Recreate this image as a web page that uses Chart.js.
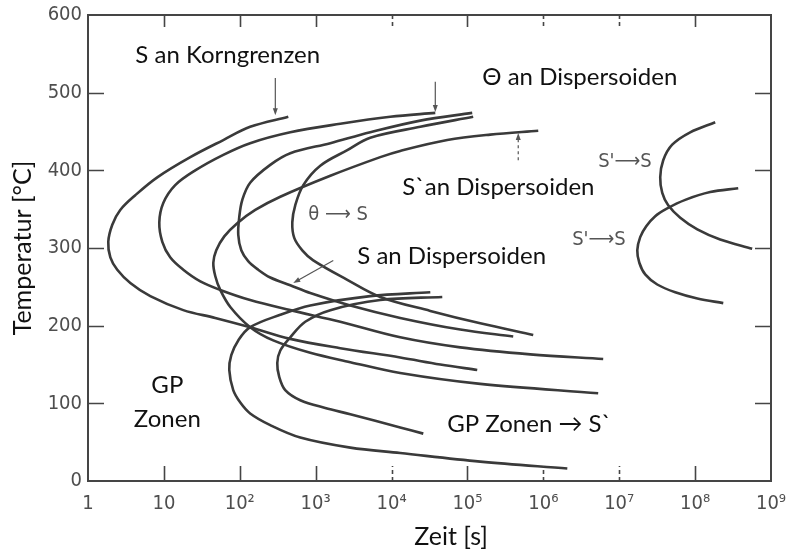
<!DOCTYPE html>
<html>
<head>
<meta charset="utf-8">
<script src="https://cdn.jsdelivr.net/npm/chart.js@4.4.1/dist/chart.umd.min.js"></script>
<style>
  html, body { margin: 0; padding: 0; background: #fff; }
  #wrap { width: 788px; height: 553px; }
</style>
</head>
<body>
<div id="wrap"><canvas id="c" width="788" height="553"></canvas></div>
<script>
// Zeit-Temperatur-Ausscheidungsdiagramm (Zeit in s, Temperatur in °C)

const xTickValues = [1, 1e1, 1e2, 1e3, 1e4, 1e5, 1e6, 1e7, 1e8, 1e9];
const xTickLabels = ['1', '10', '10²', '10³', '10⁴', '10⁵', '10⁶', '10⁷', '10⁸', '10⁹'];
const yTickValues = [0, 100, 200, 300, 400, 500, 600];

// S an Korngrenzen
const korngrenzenTime = [436, 137, 60.7, 22.3, 8.18, 4.2, 2.66, 2.09, 1.85, 1.97, 2.43, 3.61, 6.62, 18.0, 47.5, 137, 463, 2110, 13000, 43900, 134600];
const korngrenzenTemp = [469, 456, 439, 417, 391, 368, 349, 330, 308, 288, 272, 255, 238, 220, 210, 198, 183, 171, 159, 150, 143];

// Θ an Dispersoiden
const thetaDispTime = [37700, 9610, 2110, 463, 137, 60.7, 25.9, 14.1, 9.82, 8.7, 9.53, 12.1, 18.0, 30.2, 55.3, 137, 463, 2110, 13000, 80400, 671000, 6150000];
const thetaDispTemp = [474, 469, 460, 449, 435, 420, 400, 381, 358, 333, 308, 288, 272, 257, 246, 233, 220, 205, 185, 172, 163, 157];

// S an Dispersoiden
const sDispTime = [115600, 23900, 5240, 1560, 463, 252, 137, 108, 98.5, 95.5, 104.7, 129, 175, 252, 463, 849, 2860, 13000, 80400, 401000];
const sDispTemp = [474, 464, 449, 435, 422, 407, 384, 362, 340, 317, 297, 283, 272, 262, 252, 242, 226, 210, 195, 186];

// θ → S
const thetaToSTime = [119000, 23900, 5240, 2610, 1150, 687, 538, 492, 522, 666, 930, 2610, 7100, 32400, 147600, 736000];
const thetaToSTemp = [469, 456, 442, 426, 406, 381, 355, 333, 313, 297, 284, 259, 237, 219, 203, 188];

// S` an Dispersoiden
const sPrimeDispTime = [857000, 199500, 54200, 13000, 7100, 1560, 342, 160, 92.7, 62.5, 49, 44.8, 47.5, 55.3, 75, 137, 276, 849, 2860, 13000, 147600, 5280000];
const sPrimeDispTemp = [451, 446, 439, 425, 417, 393, 366, 349, 332, 315, 297, 281, 264, 246, 224, 198, 181, 165, 153, 139, 125, 113];

// GP-Zonen → S` (äußere und innere Kurve)
const gpOuterTime = [32400, 5240, 849, 342, 137, 95.5, 77.3, 72.7, 82, 101.6, 137, 252, 627, 2860, 13000, 147600, 2070000];
const gpOuterTemp = [243, 238, 226, 214, 198, 181, 162, 143, 117, 101, 87, 72, 56, 43, 36, 25, 16];
const gpInnerTime = [46600, 7100, 1560, 729, 463, 342, 312, 331, 397, 627, 1337, 2860, 13000, 26200];
const gpInnerTemp = [237, 233, 220, 205, 185, 168, 152, 134, 117, 104, 94, 86, 69, 61];

// S' → S (obere und untere Kurve)
const sPrimeUpperTime = [1.84e8, 8.61e7, 4.99e7, 3.8e7, 3.47e7, 3.69e7, 4.42e7, 6.37e7, 1.07e8, 2.14e8, 5.65e8];
const sPrimeUpperTemp = [462, 449, 433, 413, 391, 371, 355, 339, 324, 311, 299];
const sPrimeLowerTime = [3.70e8, 1.58e8, 7.41e7, 4.29e7, 2.98e7, 2.27e7, 1.89e7, 1.73e7, 1.84e7, 2.20e7, 3.17e7, 5.47e7, 1.07e8, 2.35e8];
const sPrimeLowerTemp = [377, 372, 362, 351, 341, 328, 314, 297, 281, 266, 253, 243, 235, 229];

const curves = [
  [korngrenzenTime, korngrenzenTemp],
  [thetaDispTime, thetaDispTemp],
  [sDispTime, sDispTemp],
  [thetaToSTime, thetaToSTemp],
  [sPrimeDispTime, sPrimeDispTemp],
  [gpOuterTime, gpOuterTemp],
  [gpInnerTime, gpInnerTemp],
  [sPrimeUpperTime, sPrimeUpperTemp],
  [sPrimeLowerTime, sPrimeLowerTemp]
];

const INK = '#3a3a3a';
const TEXT_FONT = "Lato, 'Open Sans', 'DejaVu Sans', sans-serif";
const SKETCH_FONT = "'DejaVu Sans Condensed', 'Liberation Sans Narrow', 'DejaVu Sans', sans-serif";

// Beschriftungen im Diagramm, in Datenkoordinaten verankert
const notes = [
  { text: 'S an Korngrenzen', t: 4.2, T: 538, align: 'left' },
  { text: 'Θ an Dispersoiden', t: 1.57e5, T: 510, align: 'left' },
  { text: 'S`an Dispersoiden', t: 1.38e4, T: 368, align: 'left' },
  { text: 'S an Dispersoiden', t: 3530, T: 280, align: 'left' },
  { text: 'GP', t: 11.1, T: 113, align: 'center' },
  { text: 'Zonen', t: 11.1, T: 69, align: 'center' },
  { text: 'GP Zonen \u2192 S`', t: 5.42e4, T: 63, align: 'left' }
];
const sketchNotes = [
  { text: 'θ \u27F6 S', t: 800, T: 336 },
  { text: "S'\u27F6S", t: 5.28e6, T: 404 },
  { text: "S'\u27F6S", t: 2.4e6, T: 304 }
];
const arrows = [
  { from: [294, 519], to: [294, 471] },
  { from: [3.77e4, 514], to: [3.77e4, 475] },
  { from: [4.67e5, 413], to: [4.67e5, 448], dashed: true },
  { from: [1706, 284], to: [507, 255] }
];
const innerXTicks = [1e1, 1e2, 1e3, 1e4, 1e5, 1e6, 1e7, 1e8];
const brokenXTicks = [1e4, 1e6, 1e7];
const innerYTicks = [100, 200, 300, 400, 500];

const sketchPlugin = {
  id: 'sketch',
  afterDatasetsDraw(chart) {
    const { ctx, chartArea: a, scales: { x, y } } = chart;
    ctx.save();

    // Rahmen
    ctx.strokeStyle = '#454545';
    ctx.lineWidth = 2;
    ctx.strokeRect(a.left, a.top, a.right - a.left, a.bottom - a.top);

    // nach innen gerichtete Teilstriche
    ctx.lineWidth = 1.6;
    innerXTicks.forEach(v => {
      const px = Math.round(x.getPixelForValue(v)) + 0.5;
      ctx.setLineDash(brokenXTicks.includes(v) ? [4, 3] : []);
      ctx.beginPath();
      ctx.moveTo(px, a.bottom); ctx.lineTo(px, a.bottom - 15);
      ctx.moveTo(px, a.top); ctx.lineTo(px, a.top + 12);
      ctx.stroke();
    });
    ctx.setLineDash([]);
    innerYTicks.forEach(v => {
      const py = Math.round(y.getPixelForValue(v)) + 0.5;
      ctx.beginPath();
      ctx.moveTo(a.left, py); ctx.lineTo(a.left + 16, py);
      ctx.moveTo(a.right, py); ctx.lineTo(a.right - 16, py);
      ctx.stroke();
    });

    // Hinweispfeile
    ctx.strokeStyle = '#555';
    ctx.fillStyle = '#555';
    ctx.lineWidth = 1.2;
    arrows.forEach(ar => {
      const x0 = x.getPixelForValue(ar.from[0]), y0 = y.getPixelForValue(ar.from[1]);
      const x1 = x.getPixelForValue(ar.to[0]), y1 = y.getPixelForValue(ar.to[1]);
      const ang = Math.atan2(y1 - y0, x1 - x0);
      ctx.setLineDash(ar.dashed ? [3, 3] : []);
      ctx.beginPath();
      ctx.moveTo(x0, y0);
      ctx.lineTo(x1 - 5 * Math.cos(ang), y1 - 5 * Math.sin(ang));
      ctx.stroke();
      ctx.setLineDash([]);
      ctx.beginPath();
      ctx.moveTo(x1, y1);
      ctx.lineTo(x1 - 7 * Math.cos(ang) + 2.5 * Math.sin(ang), y1 - 7 * Math.sin(ang) - 2.5 * Math.cos(ang));
      ctx.lineTo(x1 - 7 * Math.cos(ang) - 2.5 * Math.sin(ang), y1 - 7 * Math.sin(ang) + 2.5 * Math.cos(ang));
      ctx.closePath();
      ctx.fill();
    });

    // Beschriftungen
    ctx.fillStyle = '#111';
    ctx.textBaseline = 'alphabetic';
    ctx.font = '24px ' + TEXT_FONT;
    notes.forEach(n => {
      ctx.textAlign = n.align;
      ctx.fillText(n.text, x.getPixelForValue(n.t), y.getPixelForValue(n.T));
    });
    ctx.fillStyle = '#555';
    ctx.textAlign = 'left';
    ctx.font = '20px ' + SKETCH_FONT;
    sketchNotes.forEach(n => {
      ctx.fillText(n.text, x.getPixelForValue(n.t), y.getPixelForValue(n.T));
    });

    // Achsentitel der Zeitachse
    ctx.fillStyle = '#111';
    ctx.textAlign = 'center';
    ctx.font = '25px ' + TEXT_FONT;
    ctx.fillText('Zeit [s]', x.getPixelForValue(6.1e4), a.bottom + 64);

    ctx.restore();
  }
};

new Chart(document.getElementById('c'), {
  type: 'scatter',
  data: {
    datasets: curves.map(([times, temps]) => ({
      data: times.map((t, i) => ({ x: t, y: temps[i] })),
      showLine: true,
      borderColor: INK,
      borderWidth: 2.6,
      pointRadius: 0,
      pointHoverRadius: 0,
      tension: 0.35,
      fill: false
    }))
  },
  options: {
    responsive: false,
    animation: false,
    devicePixelRatio: 1,
    layout: { padding: { left: 0, right: 17, top: 15, bottom: 0 } },
    plugins: { legend: { display: false }, tooltip: { enabled: false }, title: { display: false } },
    scales: {
      x: {
        type: 'logarithmic',
        min: 1,
        max: 1e9,
        afterBuildTicks: s => { s.ticks = xTickValues.map(v => ({ value: v })); },
        afterFit: s => { s.height = 72; s.paddingLeft = 0; s.paddingRight = 0; },
        grid: { display: false, drawTicks: false },
        border: { display: false },
        ticks: {
          autoSkip: false,
          maxRotation: 0,
          padding: 11,
          color: '#4e4e4e',
          font: { family: SKETCH_FONT, size: 20 },
          callback: (v, i) => xTickLabels[i]
        }
      },
      y: {
        type: 'linear',
        min: 0,
        max: 600,
        afterBuildTicks: s => { s.ticks = yTickValues.map(v => ({ value: v })); },
        afterFit: s => { s.width = 88; s.paddingTop = 0; s.paddingBottom = 0; },
        grid: { display: false, drawTicks: false },
        border: { display: false },
        ticks: {
          padding: 6,
          color: '#4e4e4e',
          font: { family: SKETCH_FONT, size: 20 },
          callback: v => String(v)
        },
        title: {
          display: true,
          text: 'Temperatur [°C]',
          color: '#111',
          font: { family: TEXT_FONT, size: 25 },
          padding: { top: 8, bottom: 0 }
        }
      }
    }
  },
  plugins: [sketchPlugin]
});
</script>
</body>
</html>
